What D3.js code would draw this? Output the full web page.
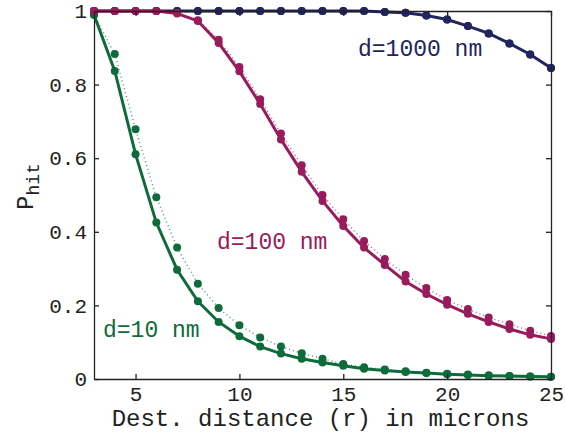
<!DOCTYPE html>
<meta charset="utf-8">
<style>
  body { margin: 0; background: #fff; }
  text { font-family: "Liberation Mono", "DejaVu Sans Mono", monospace; }
</style>
<body>
<script src="https://cdn.jsdelivr.net/npm/d3@7"></script>
<script>

    var width = 565,
        height = 433;

    // distance r in microns
    var distances = [3, 4, 5, 6, 7, 8, 9, 10, 11, 12, 13, 14, 15, 16, 17, 18, 19, 20, 21, 22, 23, 24, 25];

    // d = 10 nm
    var sim10 =    [0.99, 0.837, 0.611, 0.425, 0.297, 0.211, 0.155, 0.116, 0.088, 0.069, 0.055, 0.045, 0.036, 0.028, 0.023, 0.019, 0.016, 0.013, 0.011, 0.009, 0.008, 0.007, 0.006];
    var theory10 = [0.99, 0.883, 0.679, 0.494, 0.357, 0.259, 0.193, 0.146, 0.113, 0.088, 0.070, 0.055, 0.041, 0.032, 0.026, 0.021, 0.017, 0.014, 0.012, 0.010, 0.008, 0.007, 0.006];

    // d = 100 nm
    var sim100 =    [1, 1, 1, 1, 0.993, 0.973, 0.913, 0.836, 0.747, 0.651, 0.563, 0.484, 0.416, 0.357, 0.310, 0.265, 0.231, 0.202, 0.177, 0.155, 0.136, 0.120, 0.109];
    var theory100 = [1, 1, 1, 1, 0.995, 0.975, 0.922, 0.848, 0.760, 0.667, 0.581, 0.500, 0.434, 0.375, 0.326, 0.283, 0.247, 0.215, 0.190, 0.167, 0.149, 0.131, 0.117];

    // d = 1000 nm
    var sim1000 =    [1, 1, 1, 1, 1, 1, 1, 1, 1, 1, 1, 1, 1, 1, 0.997, 0.995, 0.988, 0.977, 0.959, 0.939, 0.912, 0.882, 0.845];
    var theory1000 = [1, 1, 1, 1, 1, 1, 1, 1, 1, 1, 1, 1, 1, 1, 0.997, 0.995, 0.988, 0.977, 0.959, 0.939, 0.912, 0.882, 0.845];

    var xTicks = [5, 10, 15, 20, 25];
    var yTicks = [0, 0.2, 0.4, 0.6, 0.8, 1];

    var series = [
        {label: "d=10 nm",   color: "#0e6b3b", sim: sim10,   theory: theory10,   lx: 103, ly: 337},
        {label: "d=1000 nm", color: "#22245f", sim: sim1000, theory: theory1000, lx: 358, ly: 56},
        {label: "d=100 nm",  color: "#981c5c", sim: sim100,  theory: theory100,  lx: 217, ly: 249}
    ];

    var mLeft = 94, mRight = 551, mTop = 11, mBottom = 379;

    var x = d3.scaleLinear().domain([3, 25]).range([mLeft, mRight]);
    var y = d3.scaleLinear().domain([0, 1]).range([mBottom, mTop]);

    var svg = d3.select("body").append("svg")
            .attr("width", width)
            .attr("height", height);

    var line = function(vals) {
        return d3.line()
                .x(function(d, i) { return x(distances[i]); })
                .y(function(d) { return y(d); })(vals);
    };

    // 先画虚线理论曲线，再画实线
    series.forEach(function(s) {
        svg.append("path")
                .attr("d", line(s.theory))
                .attr("fill", "none")
                .attr("stroke", s.color)
                .attr("stroke-opacity", 0.7)
                .attr("stroke-width", 1.5)
                .attr("stroke-dasharray", "1,3");
        svg.append("path")
                .attr("d", line(s.sim))
                .attr("fill", "none")
                .attr("stroke", s.color)
                .attr("stroke-width", 3);
        [s.theory, s.sim].forEach(function(vals) {
            svg.append("g").selectAll("circle")
                    .data(vals)
                    .enter().append("circle")
                    .attr("cx", function(d, i) { return x(distances[i]); })
                    .attr("cy", function(d) { return y(d); })
                    .attr("r", 4)
                    .attr("fill", s.color);
        });
    });

    series.forEach(function(s) {
        svg.append("text")
                .attr("x", s.lx)
                .attr("y", s.ly)
                .attr("fill", s.color)
                .style("font-size", "23px")
                .text(s.label);
    });

    // axes, ticks pointing inward
    var fmt = function(d) { return d === 0 ? "0" : d === 1 ? "1" : d.toFixed(1); };

    svg.append("g")
            .attr("transform", "translate(0," + mBottom + ")")
            .call(d3.axisBottom(x).tickValues(xTicks).tickSizeInner(-5).tickSizeOuter(0).tickPadding(7));
    svg.append("g")
            .attr("transform", "translate(" + mLeft + ",0)")
            .call(d3.axisLeft(y).tickValues(yTicks).tickFormat(fmt).tickSizeInner(-5).tickSizeOuter(0).tickPadding(7));
    svg.append("g")
            .attr("transform", "translate(0," + mTop + ")")
            .call(d3.axisTop(x).tickValues(xTicks).tickFormat("").tickSizeInner(-5).tickSizeOuter(0));
    svg.append("g")
            .attr("transform", "translate(" + mRight + ",0)")
            .call(d3.axisRight(y).tickValues(yTicks).tickFormat("").tickSizeInner(-5).tickSizeOuter(0));

    svg.selectAll(".domain, .tick line").attr("stroke", "#222").attr("stroke-width", 1.3);
    svg.selectAll(".tick text")
            .attr("fill", "#222")
            .style("font-family", "'Liberation Mono', monospace")
            .style("font-size", "21px");

    svg.append("text")
            .attr("x", (mLeft + mRight) / 2 - 2)
            .attr("y", 426)
            .attr("text-anchor", "middle")
            .attr("fill", "#222")
            .style("font-size", "24px")
            .text("Dest. distance (r) in microns");

    var yl = svg.append("text")
            .attr("transform", "translate(33,210) rotate(-90)")
            .attr("fill", "#222")
            .style("font-size", "24px");
    yl.append("tspan").text("P");
    yl.append("tspan").attr("dy", 6).style("font-size", "18px").text("hit");

</script>
